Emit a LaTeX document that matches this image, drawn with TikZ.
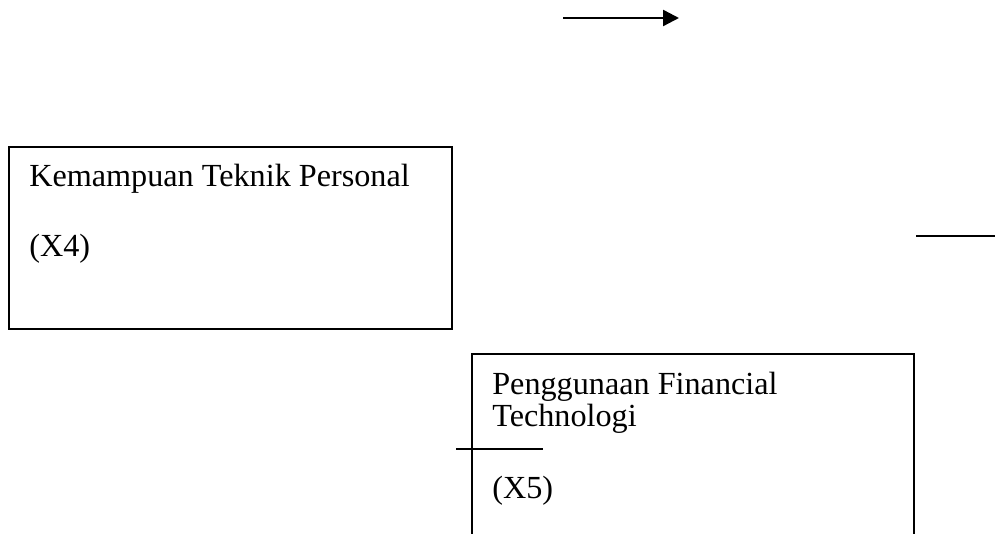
\documentclass[tikz,border=0pt]{standalone}
\usepackage{fontspec}
\setmainfont{Liberation Serif}
\usetikzlibrary{positioning,arrows.meta}

\begin{document}
\begin{tikzpicture}[
				x=1pt, y=-1pt,
				varbox/.style={
					draw=black,
					line width=1.8pt,
					inner sep=0pt
				},
				lbl/.style={
					font=\fontsize{32.2}{32}\selectfont,
					inner sep=0pt,
					align=left
				},
				conn/.style={
					line width=2.4pt,
					black
				}
				]
				\useasboundingbox (0,0) rectangle (995,534);
				\clip (0,0) rectangle (995,534);
				
				\node[varbox, minimum width=443pt, minimum height=182pt] (tkp) at (230.5,238) {};
				\node[lbl, below right=18pt and 21pt of tkp.north west] (tkptext) {Kemampuan Teknik Personal\\[38pt](X4)};
				
				\node[varbox, minimum width=442pt, minimum height=220pt] (pft) at (693,464) {};
				\node[lbl, below right=19pt and 21pt of pft.north west] (pfttext) {Penggunaan Financial\\Technologi\\[40pt](X5)};
				
				\coordinate (arrowstart) at (563,18);
				\coordinate (arrowend) at (679,18);
				\coordinate (rightstart) at (916,236);
				\coordinate (rightend) at (995,236);
				\coordinate (crossstart) at (456,449);
				\coordinate (crossend) at (543,449);
				
				\draw[conn, -{Triangle[length=16pt, width=16pt]}] (arrowstart) -- (arrowend);
				\draw[conn] (rightstart) -- (rightend);
				\draw[conn] (crossstart) -- (crossend);
			\end{tikzpicture}
\end{document}
